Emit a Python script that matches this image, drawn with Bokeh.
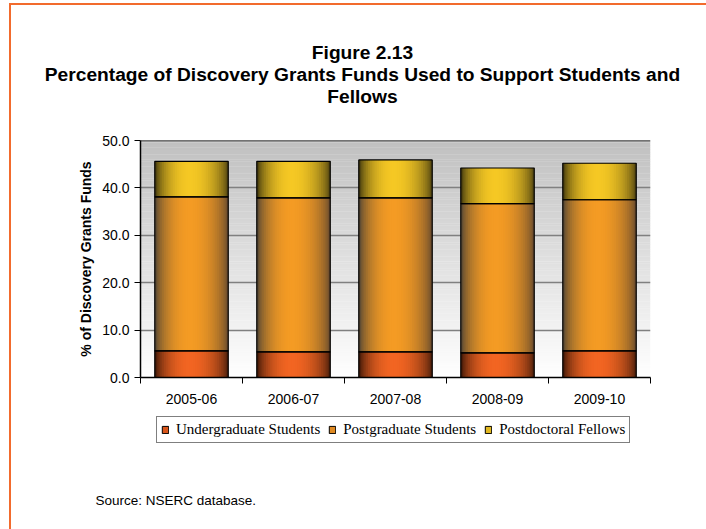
import math

from bokeh.embed import file_html
from bokeh.layouts import column, row
from bokeh.models import (ColumnDataSource, FixedTicker, Label, Legend, LegendItem,
                          PrintfTickFormatter, Range1d, Span)
from bokeh.plotting import figure
from bokeh.resources import INLINE

# ---- data -----------------------------------------------------------------
years = ["2005-06", "2006-07", "2007-08", "2008-09", "2009-10"]
undergrad = [5.6, 5.4, 5.4, 5.2, 5.6]
postgrad = [32.5, 32.5, 32.5, 31.5, 31.9]
postdoc = [7.5, 7.7, 8.0, 7.5, 7.7]
series_names = ["Undergraduate Students", "Postgraduate Students", "Postdoctoral Fellows"]
y_ticks = [0, 10, 20, 30, 40, 50]

title_lines = [
    "Figure 2.13",
    "Percentage of Discovery Grants Funds Used to Support Students and",
    "Fellows",
]
y_label = "% of Discovery Grants Funds"
source_note = "Source: NSERC database."

# ---- page geometry (pixels from the page's top-left) ----------------------
PAGE_W, PAGE_H = 706, 529
OFF_X, OFF_Y = 11, 5                  # inside the orange page frame
W = PAGE_W - OFF_X
TOP_H = 120                           # heading strip
MAIN_TOP, MAIN_BOT = OFF_Y + TOP_H, 412
FRAME_L, FRAME_T, FRAME_R, FRAME_B = 140, 140, 650, 377
BOT_H = PAGE_H - MAIN_BOT

BAR_W = 0.72
STRIPS = 40

# bright centre colour and dark left / right edge colours of each cylinder
mid_cols = [(242, 101, 34), (244, 155, 36), (245, 200, 36)]
left_cols = [(30, 10, 3), (55, 55, 55), (35, 32, 10)]
right_cols = [(50, 20, 8), (82, 62, 48), (55, 48, 15)]
legend_cols = ["#d9561c", "#e08a22", "#e2b820"]
SANS = "Liberation Sans"
SERIF = "Liberation Serif"


def shade(k, t):
    """Colour of series k at relative position t (0..1) across a bar."""
    peak = 0.47
    if t <= peak:
        d, dark = (peak - t) / peak, left_cols[k]
    else:
        d, dark = (t - peak) / (1 - peak), right_cols[k]
    f = math.cos(d * math.pi / 2) ** 0.55
    r, g, b = (int(round(dark[i] + (mid_cols[k][i] - dark[i]) * f)) for i in range(3))
    return f"#{r:02x}{g:02x}{b:02x}"


def blank(height):
    f = figure(width=W, height=height, x_axis_type=None, y_axis_type=None,
               x_range=Range1d(0, 1), y_range=Range1d(0, 1),
               output_backend="svg", toolbar_location=None, min_border=0)
    f.outline_line_color = None
    f.border_fill_color = "white"
    f.background_fill_color = "white"
    return f


# ---- heading -------------------------------------------------------------
head = blank(TOP_H)
for line, base_y in zip(title_lines, [52, 74, 95.5]):
    head.add_layout(Label(x=362 - OFF_X, y=TOP_H - (base_y - OFF_Y),
                          x_units="screen", y_units="screen", text=line,
                          text_align="center", text_baseline="alphabetic",
                          text_font=SANS, text_font_size="19.2px",
                          text_font_style="bold", text_color="black"))

# ---- main chart ----------------------------------------------------------
p = figure(width=W, height=MAIN_BOT - MAIN_TOP,
           x_range=Range1d(0, len(years)), y_range=Range1d(0, y_ticks[-1]),
           output_backend="svg", toolbar_location=None,
           min_border_left=FRAME_L - OFF_X, min_border_right=PAGE_W - FRAME_R,
           min_border_top=FRAME_T - MAIN_TOP, min_border_bottom=MAIN_BOT - FRAME_B)
p.outline_line_color = None
p.background_fill_color = "white"
p.border_fill_color = "white"

# plot-area vertical gradient (grey at the top fading to white)
n_bg = 100
ymax = y_ticks[-1]
bg = ColumnDataSource(dict(
    bottom=[ymax * i / n_bg for i in range(n_bg)],
    top=[ymax * (i + 1) / n_bg + 0.05 for i in range(n_bg)],
    color=["#{0:02x}{0:02x}{0:02x}".format(int(round(255 - 63 * (i + 0.5) / n_bg))) for i in range(n_bg)],
))
p.quad(left=0, right=len(years), bottom="bottom", top="top", source=bg,
       fill_color="color", line_color=None, level="image")

# stacked cylinders built from thin overlapping vertical strips
stacks = [undergrad, postgrad, postdoc]
strips = dict(left=[], right=[], bottom=[], top=[], color=[])
outl = dict(left=[], right=[], bottom=[], top=[])
for i in range(len(years)):
    base = 0.0
    x0 = i + 0.5 - BAR_W / 2
    for k, vals in enumerate(stacks):
        top = base + vals[i]
        for s in range(STRIPS):
            strips["left"].append(x0 + BAR_W * s / STRIPS)
            strips["right"].append(x0 + BAR_W * min(s + 2, STRIPS) / STRIPS)
            strips["bottom"].append(base)
            strips["top"].append(top)
            strips["color"].append(shade(k, (s + 0.5) / STRIPS))
        outl["left"].append(x0)
        outl["right"].append(x0 + BAR_W)
        outl["bottom"].append(base)
        outl["top"].append(top)
        base = top

p.quad(left="left", right="right", bottom="bottom", top="top",
       source=ColumnDataSource(strips), fill_color="color", line_color=None)
p.quad(left="left", right="right", bottom="bottom", top="top",
       source=ColumnDataSource(outl), fill_alpha=0, line_color="black", line_width=1.2)

# grid and axes
p.xgrid.visible = False
p.ygrid.ticker = FixedTicker(ticks=y_ticks[1:-1])
p.ygrid.grid_line_color = "#808080"
p.ygrid.grid_line_width = 1.5
p.add_layout(Span(location=y_ticks[-1], dimension="width", line_color="black", line_width=1.5))

ya = p.yaxis[0]
ya.ticker = FixedTicker(ticks=y_ticks)
ya.formatter = PrintfTickFormatter(format="%.1f")
ya.major_tick_out = 6
ya.major_tick_in = 0
ya.minor_tick_out = 0
ya.axis_line_color = "black"
ya.axis_line_width = 1.5
ya.major_tick_line_color = "black"
ya.major_label_text_font = SANS
ya.major_label_text_font_size = "14px"
ya.major_label_text_color = "black"
ya.axis_label = y_label
ya.axis_label_text_font = SANS
ya.axis_label_text_font_size = "14px"
ya.axis_label_text_font_style = "bold"
ya.axis_label_text_color = "black"
ya.axis_label_standoff = 5

xa = p.xaxis[0]
centres = [i + 0.5 for i in range(len(years))]
xa.ticker = FixedTicker(ticks=centres, minor_ticks=list(range(len(years) + 1)))
xa.major_label_overrides = {c: y for c, y in zip(centres, years)}
xa.major_tick_out = 0
xa.major_tick_in = 0
xa.minor_tick_out = 6
xa.minor_tick_in = 0
xa.minor_tick_line_color = "black"
xa.axis_line_color = "black"
xa.axis_line_width = 1.5
xa.major_label_standoff = 10
xa.major_label_text_font = SANS
xa.major_label_text_font_size = "14px"
xa.major_label_text_color = "black"

# ---- legend and source note ----------------------------------------------
foot = blank(BOT_H)
items = []
for k, name in enumerate(series_names):
    # swatch renderers sit outside the visible range; only their legend glyph shows
    r = foot.quad(left=[2], right=[3], bottom=[2], top=[3], fill_color=legend_cols[k],
                  line_color="black", line_width=1)
    items.append(LegendItem(label=name, renderers=[r]))
legend = Legend(items=items, orientation="horizontal",
                location=(156 - OFF_X, BOT_H - (443 - MAIN_BOT)),
                glyph_width=8, glyph_height=9, label_standoff=7, spacing=8,
                padding=4, margin=0, label_height=15,
                label_text_font=SERIF, label_text_font_size="15px",
                label_text_color="black", border_line_color="black",
                border_line_width=1, background_fill_color="white",
                background_fill_alpha=1)
foot.add_layout(legend, "center")
foot.add_layout(Label(x=95 - OFF_X, y=BOT_H - (500 - MAIN_BOT),
                      x_units="screen", y_units="screen", text=source_note,
                      text_align="left", text_baseline="alphabetic",
                      text_font=SANS, text_font_size="13.5px", text_color="black"))

page = column(row(head), p, row(foot), spacing=0,
              margin=(OFF_Y - 2, 0, 0, OFF_X - 2),
              styles={"border-left": "2px solid #f26b2d", "border-top": "2px solid #f26b2d",
                      "background-color": "white"})

open("out.html", "w").write(file_html(page, INLINE))
